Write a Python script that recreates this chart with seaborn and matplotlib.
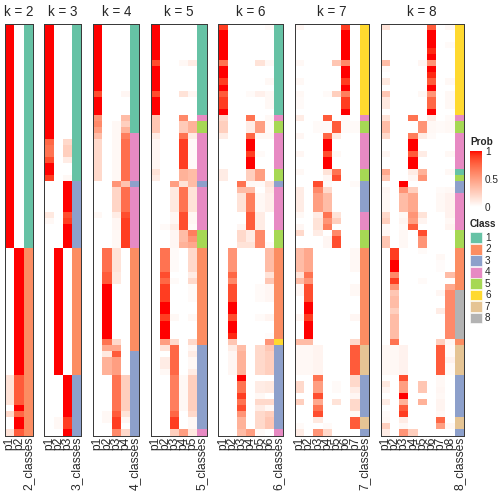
import numpy as np
import pandas as pd
import matplotlib
matplotlib.use("Agg")
import matplotlib.pyplot as plt
from matplotlib.colors import ListedColormap
from matplotlib.patches import Rectangle
import seaborn as sns

# ---------------- data (runs of identical rows: (n_rows, values)) ----------------
ks = [2, 3, 4, 5, 6, 7, 8]
class_colors = ["#66C2A5", "#FC8D62", "#8DA0CB", "#E78AC3",
                "#A6D854", "#FFD92F", "#E5C494", "#B3B3B3"]
class_labels = ["1", "2", "3", "4", "5", "6", "7", "8"]
prob_ticks = [0, 0.5, 1]
prob_ticklabels = ["0", "0.5", "1"]

prob_k2 = [
    (37, [1, 0]), (21, [0, 1]), (5, [0.15, 0.8]), (1, [0, 1]),
    (1, [0.2, 0.75]), (2, [0, 1]), (1, [0.15, 0.8]),
]
class_k2 = [(37, 1), (31, 2)]

prob_k3 = [
    (19, [1, 0, 0]), (1, [0.75, 0, 0.2]), (2, [0.7, 0, 0.25]), (1, [0.85, 0, 0.1]),
    (2, [1, 0, 0]), (1, [0.9, 0, 0.04]), (5, [0, 0, 1]), (1, [0.12, 0, 0.85]),
    (1, [0.04, 0, 0.9]), (4, [0, 0, 1]), (21, [0, 1, 0]), (7, [0, 0, 1]),
    (2, [0, 0.04, 0.9]), (1, [0, 0, 1]),
]
class_k3 = [(26, 1), (11, 3), (21, 2), (10, 3)]

prob_k4 = [
    (11, [1, 0, 0, 0]), (1, [0.85, 0, 0, 0.05]), (3, [1, 0, 0, 0]),
    (1, [0.55, 0, 0, 0.35]), (1, [0.6, 0, 0.04, 0.25]), (1, [0.5, 0, 0.04, 0.4]),
    (1, [0.35, 0, 0.04, 0.65]), (7, [0.2, 0, 0.04, 0.72]), (1, [0, 0, 0.55, 0.32]),
    (4, [0, 0, 0.22, 0.72]), (1, [0.04, 0, 0.1, 0.85]), (2, [0, 0, 0.05, 0.9]),
    (3, [0, 0, 0.04, 0.9]), (4, [0, 0.72, 0.15, 0]), (2, [0, 0.8, 0.12, 0]),
    (9, [0, 1, 0, 0]), (1, [0, 0.7, 0.2, 0]), (1, [0, 0.45, 0.45, 0]),
    (1, [0, 0.12, 0.8, 0]), (3, [0, 0.4, 0.5, 0]), (6, [0, 0, 0.7, 0.25]),
    (1, [0, 0.04, 0.8, 0.15]), (1, [0, 0.04, 0.9, 0.05]), (1, [0, 0, 0.9, 0]),
    (1, [0, 0, 0.6, 0.2]),
]
class_k4 = [(18, 1), (8, 4), (1, 3), (10, 4), (17, 2), (14, 3)]

prob_k5 = [
    (6, [1, 0, 0, 0, 0]), (1, [0.85, 0, 0, 0.04, 0.1]), (4, [1, 0, 0, 0, 0]),
    (1, [0.85, 0, 0, 0.15, 0.05]), (3, [1, 0, 0, 0, 0]), (1, [0.3, 0, 0, 0.6, 0]),
    (2, [0.3, 0, 0, 0.28, 0.4]), (1, [0.1, 0, 0, 0.7, 0.1]), (5, [0.05, 0, 0, 0.9, 0.03]),
    (1, [0.15, 0, 0, 0.4, 0.35]), (1, [0.1, 0, 0, 0.4, 0.35]), (1, [0, 0, 0.5, 0.15, 0.35]),
    (4, [0, 0, 0.12, 0.7, 0.15]), (2, [0, 0, 0.05, 0.85, 0.05]), (1, [0, 0.03, 0.1, 0.85, 0.03]),
    (1, [0, 0, 0.05, 0.35, 0.65]), (1, [0, 0, 0.05, 0.35, 0.55]), (1, [0, 0, 0.05, 0.4, 0.45]),
    (4, [0, 0.7, 0.03, 0, 0.2]), (1, [0, 0.85, 0, 0, 0.1]), (1, [0, 0.75, 0.03, 0, 0.2]),
    (3, [0, 0.9, 0, 0, 0.03]), (2, [0, 1, 0, 0, 0]), (1, [0, 0.9, 0.04, 0, 0.04]),
    (3, [0, 1, 0, 0, 0]), (1, [0, 0.5, 0.2, 0, 0.2]), (1, [0, 0.15, 0.75, 0, 0.05]),
    (1, [0, 0, 0.75, 0, 0.1]), (2, [0, 0.1, 0.75, 0, 0.04]), (1, [0, 0.04, 0.75, 0, 0.1]),
    (6, [0, 0, 0.65, 0.04, 0.25]), (1, [0, 0, 0.75, 0, 0.2]), (2, [0, 0, 0.9, 0, 0.04]),
    (1, [0, 0, 0.25, 0.5, 0.12]),
]
class_k5 = [(15, 1), (1, 4), (2, 5), (8, 4), (1, 3), (7, 4), (3, 5), (16, 2), (14, 3), (1, 4)]

prob_k6 = [
    (1, [0.9, 0, 0, 0, 0, 0.03]), (5, [1, 0, 0, 0, 0, 0]), (1, [0.7, 0, 0, 0, 0.15, 0.04]),
    (2, [1, 0, 0, 0, 0, 0]), (1, [0.9, 0, 0, 0, 0, 0.04]), (1, [1, 0, 0, 0, 0, 0]),
    (1, [0.8, 0, 0, 0.03, 0.08, 0.04]), (2, [0.9, 0, 0, 0, 0, 0.04]), (1, [1, 0, 0, 0, 0, 0]),
    (1, [0.2, 0, 0, 0.7, 0, 0.04]), (2, [0.25, 0, 0, 0.1, 0.5, 0.03]),
    (1, [0.1, 0, 0, 0.75, 0.04, 0.04]), (2, [0, 0, 0, 1, 0, 0]), (1, [0, 0, 0, 0.9, 0.03, 0]),
    (2, [0, 0, 0, 1, 0, 0]), (2, [0.1, 0, 0, 0.25, 0.5, 0]), (1, [0, 0, 0.7, 0.04, 0.03, 0.15]),
    (1, [0, 0, 0.35, 0.35, 0, 0.1]), (3, [0, 0, 0.15, 0.65, 0.04, 0.08]),
    (2, [0, 0, 0, 0.8, 0.1, 0]), (1, [0, 0, 0.05, 0.8, 0.1, 0]), (2, [0, 0, 0.2, 0.1, 0.6, 0]),
    (1, [0, 0, 0.15, 0.15, 0.6, 0.03]), (4, [0, 0.55, 0, 0, 0, 0.35]),
    (1, [0, 0.75, 0, 0, 0, 0.15]), (1, [0, 0.6, 0, 0, 0, 0.3]), (3, [0, 0.85, 0, 0, 0.03, 0.05]),
    (2, [0, 1, 0, 0, 0, 0]), (1, [0, 0.85, 0, 0, 0.03, 0.06]), (2, [0, 1, 0, 0, 0, 0]),
    (1, [0, 0.95, 0, 0, 0, 0.02]), (1, [0, 0.3, 0, 0, 0, 0.55]), (1, [0, 0.1, 0.35, 0, 0.2, 0.3]),
    (4, [0, 0.05, 0.4, 0, 0.2, 0.25]), (1, [0, 0, 1, 0, 0, 0]), (2, [0, 0, 0.7, 0, 0.1, 0.12]),
    (1, [0, 0, 0.9, 0, 0.04, 0]), (1, [0, 0, 0.7, 0, 0.2, 0.2]), (1, [0, 0, 0.85, 0, 0.1, 0.04]),
    (1, [0, 0, 0.55, 0, 0.2, 0.25]), (2, [0, 0, 0.4, 0, 0.2, 0.3]), (1, [0, 0, 0.35, 0.5, 0.03, 0]),
]
class_k6 = [(15, 1), (1, 4), (2, 5), (6, 4), (2, 5), (1, 3), (7, 4), (3, 5), (15, 2), (1, 6), (14, 3), (1, 4)]

prob_k7 = [
    (1, [0.05, 0, 0, 0, 0, 0.9, 0]), (5, [0, 0, 0, 0, 0, 1, 0]), (1, [0.04, 0, 0, 0, 0.3, 0.6, 0]),
    (2, [0, 0, 0, 0, 0, 1, 0]), (1, [0.04, 0, 0, 0, 0, 0.9, 0]), (1, [0, 0, 0, 0, 0, 1, 0]),
    (1, [0.04, 0, 0, 0.03, 0.25, 0.65, 0]), (2, [0.03, 0, 0, 0, 0, 0.9, 0]), (1, [0, 0, 0, 0, 0, 1, 0]),
    (1, [0.1, 0, 0, 0.8, 0, 0.03, 0]), (2, [0, 0, 0.03, 0.03, 0.8, 0.03, 0.03]),
    (1, [0.05, 0, 0, 0.75, 0.1, 0, 0]), (2, [0, 0, 0, 1, 0, 0, 0]), (1, [0.05, 0, 0, 0.85, 0.04, 0, 0]),
    (2, [0, 0, 0, 1, 0, 0, 0]), (1, [0.04, 0, 0, 0.15, 0.7, 0, 0]), (1, [0, 0, 0, 0.05, 0.85, 0, 0]),
    (1, [0, 0, 0.85, 0.03, 0, 0, 0.03]), (1, [0.1, 0, 0.6, 0.2, 0, 0, 0]), (3, [0.1, 0, 0.5, 0.35, 0, 0, 0]),
    (1, [0.04, 0, 0.1, 0.7, 0.15, 0, 0]), (1, [0, 0, 0.15, 0.55, 0.25, 0, 0]),
    (1, [0.05, 0, 0.15, 0.65, 0, 0, 0]), (1, [0.2, 0, 0.1, 0, 0.6, 0, 0]), (2, [0, 0, 0, 0.05, 0.85, 0, 0]),
    (4, [0.35, 0.45, 0, 0, 0, 0, 0.04]), (1, [0.15, 0.7, 0, 0, 0, 0, 0]), (1, [0.35, 0.55, 0, 0, 0, 0, 0]),
    (2, [0.05, 0.85, 0, 0, 0, 0, 0.04]), (1, [0, 0.85, 0, 0, 0, 0, 0]), (2, [0, 1, 0, 0, 0, 0, 0]),
    (1, [0.05, 0.9, 0, 0, 0, 0, 0.05]), (3, [0, 1, 0, 0, 0, 0, 0]), (1, [0.35, 0.35, 0, 0, 0, 0, 0.2]),
    (5, [0.04, 0.04, 0.06, 0, 0, 0, 0.8]), (1, [0, 0, 0.7, 0, 0, 0, 0.2]),
    (1, [0.2, 0, 0.5, 0, 0.03, 0, 0.2]), (1, [0.2, 0, 0.5, 0, 0.03, 0, 0.1]),
    (1, [0, 0, 0.85, 0, 0, 0, 0.05]), (1, [0.25, 0, 0.45, 0, 0.15, 0, 0.2]),
    (1, [0, 0, 0.7, 0, 0, 0, 0.2]), (1, [0, 0, 0.85, 0, 0, 0, 0.04]), (1, [0, 0, 0.12, 0, 0, 0, 0.8]),
    (1, [0.03, 0, 0, 0.03, 0, 0, 0.8]), (1, [0.1, 0, 0.55, 0.2, 0, 0, 0]),
]
class_k7 = [(15, 6), (1, 4), (2, 5), (6, 4), (2, 5), (5, 3), (3, 4), (3, 5), (16, 2), (5, 7), (7, 3), (2, 7), (1, 3)]

prob_k8 = [
    (1, [0.15, 0, 0, 0, 0, 0.8, 0, 0.04]), (2, [0, 0, 0, 0, 0, 1, 0, 0]),
    (1, [0, 0, 0, 0, 0, 1, 0, 0.03]), (1, [0, 0, 0, 0, 0, 0.95, 0, 0]), (1, [0, 0, 0, 0, 0, 1, 0, 0]),
    (1, [0.35, 0, 0, 0, 0.05, 0.55, 0, 0]), (1, [0.02, 0, 0, 0, 0, 1, 0, 0]),
    (1, [0, 0, 0, 0, 0, 0.95, 0, 0]), (1, [0.12, 0, 0, 0, 0, 0.8, 0, 0.04]), (1, [0, 0, 0, 0, 0, 1, 0, 0]),
    (1, [0.3, 0, 0, 0, 0.04, 0.55, 0, 0.04]), (2, [0.12, 0, 0, 0, 0, 0.75, 0, 0.04]),
    (1, [0, 0, 0, 0, 0, 1, 0, 0]), (1, [0.15, 0, 0, 0.7, 0, 0.1, 0, 0.03]),
    (2, [0.35, 0, 0, 0, 0.55, 0.04, 0.03, 0.04]), (1, [0.2, 0, 0, 0.65, 0.1, 0.03, 0, 0]),
    (2, [0, 0, 0, 1, 0, 0, 0, 0]), (1, [0.05, 0, 0, 0.8, 0.1, 0, 0, 0.04]), (2, [0, 0, 0, 1, 0, 0, 0, 0]),
    (1, [0.45, 0, 0, 0.1, 0.4, 0, 0, 0.04]), (1, [0.3, 0, 0, 0.05, 0.55, 0, 0, 0]),
    (1, [0, 0, 1, 0, 0, 0, 0, 0]), (1, [0.05, 0, 0.55, 0.25, 0, 0, 0.03, 0.04]),
    (3, [0.04, 0, 0.35, 0.45, 0, 0, 0.04, 0.07]), (1, [0.2, 0, 0.04, 0.55, 0.15, 0, 0, 0.07]),
    (1, [0.25, 0, 0.06, 0.5, 0.06, 0, 0, 0.04]), (1, [0.03, 0, 0.03, 0.8, 0, 0, 0, 0.06]),
    (1, [0.05, 0, 0.04, 0, 0.85, 0, 0, 0]), (2, [0.3, 0, 0.04, 0, 0.55, 0, 0, 0]),
    (1, [0, 0.9, 0, 0, 0.03, 0, 0, 0]), (1, [0, 0.9, 0, 0, 0, 0, 0.04, 0]),
    (2, [0, 1, 0, 0, 0, 0, 0.02, 0]), (1, [0, 0.6, 0, 0, 0, 0, 0, 0.35]),
    (1, [0, 0.9, 0, 0, 0.03, 0, 0, 0]), (1, [0, 0.55, 0, 0, 0, 0, 0, 0.45]),
    (1, [0, 0.3, 0, 0, 0, 0, 0.05, 0.6]), (2, [0, 0.35, 0, 0, 0, 0, 0, 0.6]),
    (1, [0, 0.25, 0, 0, 0, 0, 0.1, 0.6]), (4, [0, 0.35, 0, 0, 0, 0, 0, 0.6]),
    (1, [0, 0.7, 0, 0, 0, 0, 0.25, 0.05]), (2, [0.04, 0.04, 0.07, 0, 0, 0, 0.8, 0.03]),
    (1, [0.04, 0.04, 0.07, 0, 0, 0, 0.8, 0.07]), (2, [0.04, 0.04, 0.07, 0, 0, 0, 0.8, 0.03]),
    (1, [0, 0, 0.85, 0, 0, 0, 0.04, 0]), (1, [0.12, 0, 0.5, 0, 0.3, 0, 0.04, 0]),
    (1, [0.05, 0, 0.5, 0, 0.3, 0, 0.05, 0]), (1, [0, 0, 1, 0, 0, 0, 0.04, 0]),
    (1, [0.1, 0, 0.4, 0, 0.4, 0, 0.06, 0]), (1, [0, 0, 0.8, 0, 0, 0, 0.06, 0]),
    (1, [0.03, 0, 0.9, 0, 0, 0, 0.04, 0]), (1, [0.04, 0, 0.1, 0, 0, 0, 0.75, 0]),
    (1, [0.25, 0, 0.04, 0, 0, 0, 0.5, 0.04]), (1, [0.1, 0, 0.55, 0.25, 0, 0, 0, 0]),
]
class_k8 = [(15, 6), (1, 4), (2, 5), (6, 4), (1, 1), (1, 5), (2, 3), (6, 4), (3, 5), (7, 2),
            (8, 8), (1, 2), (5, 7), (7, 3), (2, 7), (1, 3)]

prob_runs = {2: prob_k2, 3: prob_k3, 4: prob_k4, 5: prob_k5, 6: prob_k6, 7: prob_k7, 8: prob_k8}
class_runs = {2: class_k2, 3: class_k3, 4: class_k4, 5: class_k5, 6: class_k6, 7: class_k7, 8: class_k8}


def expand(runs):
    out = []
    for n, v in runs:
        out.extend([v] * n)
    return np.array(out, dtype=float)


# ---------------- colour map: white -> red interpolated in CIE-Lab ----------------
def lab_to_rgb(L, a, b):
    fy = (L + 16) / 116
    fx = fy + a / 500
    fz = fy - b / 200

    def finv(t):
        return np.where(t ** 3 > 0.008856, t ** 3, (t - 16 / 116) / 7.787)

    X, Y, Z = 0.95047 * finv(fx), finv(fy), 1.08883 * finv(fz)
    r = 3.2406 * X - 1.5372 * Y - 0.4986 * Z
    g = -0.9689 * X + 1.8758 * Y + 0.0415 * Z
    bb = 0.0557 * X - 0.2040 * Y + 1.0570 * Z
    rgb = np.clip(np.stack([r, g, bb], -1), 0, 1)
    return np.where(rgb > 0.0031308, 1.055 * rgb ** (1 / 2.4) - 0.055, 12.92 * rgb)


t = np.linspace(0, 1, 256)[:, None]
lab_white = np.array([100.0, 0.0, 0.0])
lab_red = np.array([53.24, 80.09, 67.20])
lab = lab_white * (1 - t) + lab_red * t
prob_cmap = ListedColormap(np.clip(lab_to_rgb(lab[:, 0], lab[:, 1], lab[:, 2]), 0, 1))
class_cmap = ListedColormap(class_colors)

# ---------------- figure ----------------
sns.set_theme(style="white")
plt.rcParams["font.family"] = ["Liberation Sans", "DejaVu Sans"]

W = H = 504
fig = plt.figure(figsize=(7, 7), dpi=72)

col_w = 9.27
gap = 11.6
top_px, bot_px = 24.0, 435.5
x0 = 5.0

cax = fig.add_axes([470 / W, 1 - 207 / H, 12 / W, 56 / H])

for k in ks:
    P = expand(prob_runs[k])
    C = expand([(n, [c]) for n, c in class_runs[k]])[:, 0]
    nrow = P.shape[0]
    cols = [f"p{i + 1}" for i in range(k)] + [f"{k}_classes"]
    w = (k + 1) * col_w
    ax = fig.add_axes([x0 / W, 1 - bot_px / H, w / W, (bot_px - top_px) / H])

    prob_df = pd.DataFrame(np.column_stack([P, np.full(nrow, np.nan)]), columns=cols)
    cls_arr = np.full((nrow, k + 1), np.nan)
    cls_arr[:, k] = C
    cls_df = pd.DataFrame(cls_arr, columns=cols)

    sns.heatmap(prob_df, ax=ax, cmap=prob_cmap, vmin=0, vmax=1,
                cbar=(k == 2), cbar_ax=cax if k == 2 else None,
                xticklabels=True, yticklabels=False)
    sns.heatmap(cls_df, ax=ax, cmap=class_cmap, vmin=0.5, vmax=8.5,
                cbar=False, xticklabels=True, yticklabels=False)

    ax.set_xticks(np.arange(k + 1) + 0.5)
    ax.set_xticklabels(cols, rotation=90, fontsize=12, va="top", ha="center")
    ax.tick_params(axis="x", length=0, pad=1.5)
    ax.set_xlabel("")
    ax.set_ylabel("")
    for s in ax.spines.values():
        s.set_visible(True)
        s.set_color("#3a3a3a")
        s.set_linewidth(1.0)

    fig.text((x0 + w / 2) / W, 1 - 15.5 / H, f"k = {k}", ha="center",
             va="baseline", fontsize=13.5)
    x0 += w + gap

# probability colour bar
cb = fig.axes[1].collections[0].colorbar
cb.set_ticks(prob_ticks)
cb.set_ticklabels(prob_ticklabels)
cb.outline.set_visible(False)
cax.tick_params(axis="y", labelsize=10, length=3, direction="in",
                color="white", width=1, pad=3)
fig.text(470 / W, 1 - 145 / H, "Prob", fontsize=10, fontweight="bold", va="baseline")

# class legend
lax = fig.add_axes([0, 0, 1, 1], zorder=5)
lax.set_xlim(0, W)
lax.set_ylim(H, 0)
lax.axis("off")
lax.text(470, 227, "Class", fontsize=10, fontweight="bold", va="baseline")
for i, (col, lab_txt) in enumerate(zip(class_colors, class_labels)):
    yc = 237.7 + i * 11.47
    lax.add_patch(Rectangle((470, yc - 5.4), 12, 10.8, facecolor=col,
                            edgecolor="white", linewidth=0.6))
    lax.text(485, yc, lab_txt, fontsize=10, va="center", ha="left")

fig.savefig("out.png", dpi=72)
